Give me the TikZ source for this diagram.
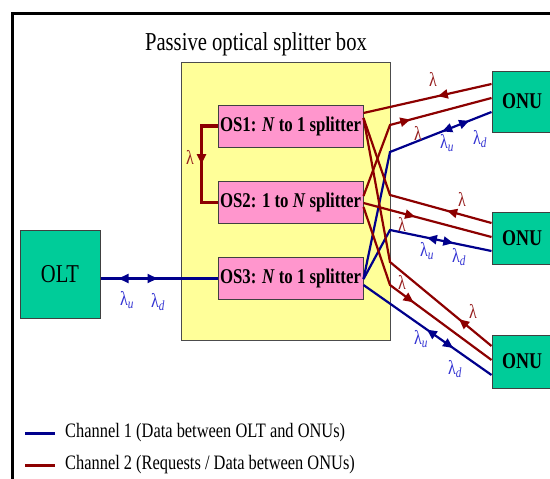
\documentclass[tikz,border=0pt]{standalone}
\usepackage{fontspec}
\setmainfont{Liberation Serif}[FakeStretch=0.8]
\usetikzlibrary{arrows.meta,decorations.markings,calc}
\definecolor{chred}{RGB}{140,0,0}
\definecolor{chblue}{RGB}{0,0,140}
\definecolor{lblue}{RGB}{50,50,210}
\definecolor{lred}{RGB}{150,30,30}
\definecolor{onugreen}{RGB}{0,204,153}
\definecolor{ospink}{RGB}{255,150,205}
\definecolor{boxyellow}{RGB}{255,255,153}
\newcommand{\lamu}{λ\textsubscript{\itshape u}}
\newcommand{\lamd}{λ\textsubscript{\itshape d}}
\begin{document}
\begin{tikzpicture}[x=1pt,y=-1pt,
  osbox/.style={draw=black!75, fill=ospink, line width=1pt, minimum width=145pt, minimum height=42pt, inner sep=0pt, font=\fontsize{21}{24}\selectfont\bfseries},
  term/.style={draw=black!75, fill=onugreen, line width=1pt, inner sep=0pt},
  onubox/.style={term, minimum width=60pt, font=\fontsize{22.5}{26}\selectfont\bfseries},
  redline/.style={draw=chred, line width=2.2pt},
  blueline/.style={draw=chblue, line width=2.2pt},
  upar/.style={postaction={decorate,decoration={markings,mark=at position #1 with {\arrowreversed{Triangle[length=10pt,width=9pt]}}}}},
  dnar/.style={postaction={decorate,decoration={markings,mark=at position #1 with {\arrow{Triangle[length=10pt,width=9pt]}}}}},
  rlab/.style={text=lred, inner sep=0pt, font=\fontsize{20}{22}\selectfont},
  blab/.style={text=lblue, inner sep=0pt, font=\fontsize{20}{22}\selectfont},
  legtext/.style={anchor=west, inner sep=0pt, font=\fontsize{20.5}{24}\selectfont}
]
\useasboundingbox (0,0) rectangle (550,479);
% outer frame
\draw[line width=3pt] (12,482) -- (12,13) -- (553,13);
% title
\node[font=\fontsize{25.8}{30}\selectfont, inner sep=0pt] (title) at (256,44) {Passive optical splitter box};
% splitter box
\node[draw=black!70, fill=boxyellow, line width=1pt, minimum width=209pt, minimum height=278pt, inner sep=0pt] (spl) at (285.5,201) {};
% splitters
\node[osbox] (OS1) at (290.5,126) {OS1: \textit{N} to 1 splitter};
\node[osbox] (OS2) at (290.5,202.5) {OS2: 1 to \textit{N} splitter};
\node[osbox] (OS3) at (290.5,278.5) {OS3: \textit{N} to 1 splitter};
% OLT and ONUs
\node[term, minimum width=80pt, minimum height=88pt, font=\fontsize{25.7}{30}\selectfont] (OLT) at (60,274) {OLT};
\node[onubox, minimum height=61pt] (ONU1) at (522,101.5) {ONU};
\node[onubox, minimum height=52pt] (ONU2) at (522,238) {ONU};
\node[onubox, minimum height=53pt] (ONU3) at (522,361.5) {ONU};
% bend points at the box edge
\coordinate (b1) at (390,125);
\coordinate (b2) at (390,152);
\coordinate (b3) at (390,195);
\coordinate (b4) at (390,230);
\coordinate (b5) at (390,262);
\coordinate (b6) at (390,285);
% loop OS1 -> OS2
\draw[chred, line width=3.4pt, dnar=54pt] (OS1.west) -- ++(-16,0) |- (OS2.west);
\node[rlab] (lloop) at (190,157) {λ};
% OLT link
\draw[blueline, upar=18pt, dnar=57pt] (OLT.east |- OS3.west) -- (OS3.west);
\node[blab] (lo1) at (127,300) {\lamu};
\node[blab] (lo2) at (158,302) {\lamd};
% ONU1
\draw[redline, upar=-55pt] ($(OS1.east)+(0,-13)$) -- ($(ONU1.west)+(0,-17.5)$);
\draw[redline, dnar=-84pt] ($(OS2.east)+(0,-6.5)$) -- (b1) -- ($(ONU1.west)+(0,-3.5)$);
\draw[blueline, upar=-53pt, dnar=-24pt] ($(OS3.east)+(0,0.5)$) -- (b2) -- ($(ONU1.west)+(0,10.5)$);
\node[rlab] (l11) at (433,79) {λ};
\node[rlab] (l12) at (418,133) {λ};
\node[blab] (l13) at (447,143) {\lamu};
\node[blab] (l14) at (480,139) {\lamd};
% ONU2
\draw[redline, upar=-46pt] ($(OS1.east)+(0,-8)$) -- (b3) -- ($(ONU2.west)+(0,-15)$);
\draw[redline, dnar=-79pt] ($(OS2.east)+(0,0.5)$) -- ($(ONU2.west)+(0,-1)$);
\draw[blueline, upar=-66pt, dnar=-39pt] ($(OS3.east)+(0,0.5)$) -- (b4) -- ($(ONU2.west)+(0,13)$);
\node[rlab] (l21) at (462,199) {λ};
\node[rlab] (l22) at (402,224) {λ};
\node[blab] (l23) at (427,251) {\lamu};
\node[blab] (l24) at (459,257) {\lamd};
% ONU3
\draw[redline, upar=-42pt] ($(OS1.east)+(0,-8)$) -- (b5) -- ($(ONU3.west)+(0,-15.5)$);
\draw[redline, dnar=-97pt] ($(OS2.east)+(0,4.5)$) -- (b6) -- ($(ONU3.west)+(0,-1.5)$);
\draw[blueline, upar=-79pt, dnar=-47pt] ($(OS3.east)+(0,6.5)$) -- ($(ONU3.west)+(0,13.5)$);
\node[rlab] (l31) at (473,311) {λ};
\node[rlab] (l32) at (402,282) {λ};
\node[blab] (l33) at (421,339) {\lamu};
\node[blab] (l34) at (455,369) {\lamd};
% legend
\coordinate (g1a) at (25,433);
\coordinate (g1b) at (55,433);
\coordinate (g2a) at (25,465);
\coordinate (g2b) at (55,465);
\draw[blueline, line width=3pt] (g1a) -- (g1b);
\draw[redline, line width=3pt] (g2a) -- (g2b);
\node[legtext] (leg1) at (65,433) {Channel 1 (Data between OLT and ONUs)};
\node[legtext] (leg2) at (65,465) {Channel 2 (Requests / Data between ONUs)};
\end{tikzpicture}
\end{document}
